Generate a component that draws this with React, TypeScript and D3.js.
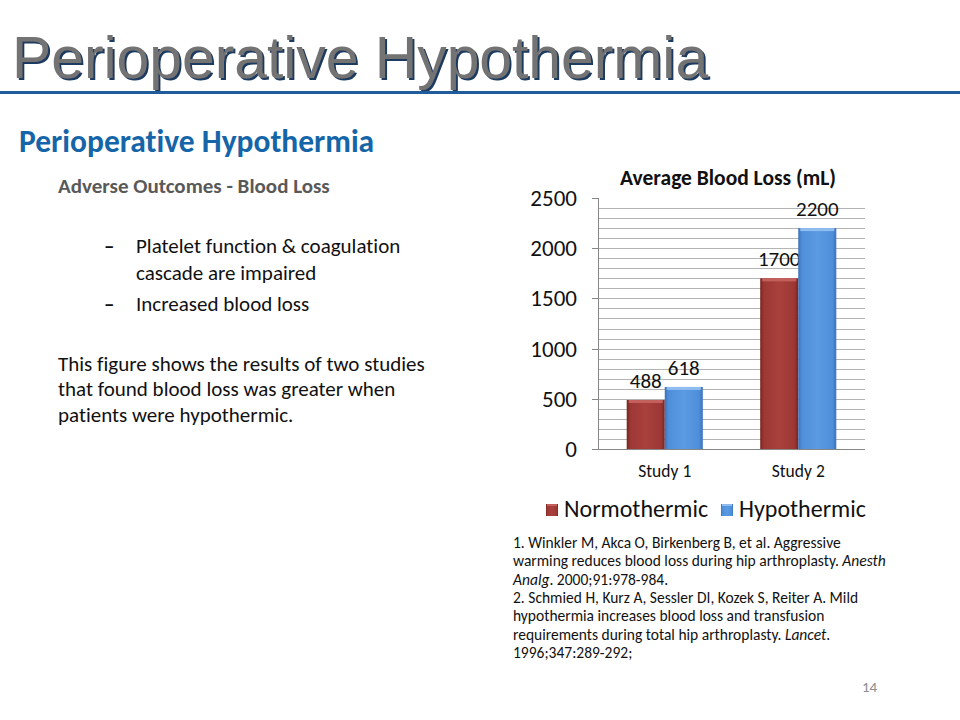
import React from "react";
import * as d3 from "d3";

const studies = ["Study 1", "Study 2"];
const seriesNames = ["Normothermic", "Hypothermic"];
const normothermic = [488, 1700];
const hypothermic = [618, 2200];
const yTicks = [0, 500, 1000, 1500, 2000, 2500];
const gridValues = d3.range(100, 2500, 100);

const bulletLines = [
  ["Platelet function & coagulation", "cascade are impaired"],
  ["Increased blood loss"],
];
const paragraphLines = [
  "This figure shows the results of two studies",
  "that found blood loss was greater when",
  "patients were hypothermic.",
];
const refLines: { t: string; i?: string; after?: string }[] = [
  { t: "1. Winkler M, Akca O, Birkenberg B, et al. Aggressive" },
  { t: "warming reduces blood loss during hip arthroplasty. ", i: "Anesth" },
  { t: "", i: "Analg", after: ". 2000;91:978-984." },
  { t: "2. Schmied H, Kurz A, Sessler DI, Kozek S, Reiter A. Mild" },
  { t: "hypothermia increases blood loss and transfusion" },
  { t: "requirements during total hip arthroplasty. ", i: "Lancet", after: "." },
  { t: "1996;347:289-292;" },
];

const FONT = "Carlito, Lato, 'Noto Sans', sans-serif";

const App: React.FC = () => {
  const W = 960;
  const H = 720;

  const x0 = d3
    .scaleBand<string>()
    .domain(studies)
    .range([598, 865])
    .paddingInner(0.43)
    .paddingOuter(0.215);
  const x1 = d3
    .scaleBand<string>()
    .domain(seriesNames)
    .range([0, x0.bandwidth()]);
  const y = d3.scaleLinear().domain([0, 2500]).range([449, 198]);

  const values = [normothermic, hypothermic];
  const grads = ["gRed", "gBlue"];
  const tops = ["#c4605c", "#8fbdf0"];

  return (
    <svg
      width={W}
      height={H}
      style={{
        position: "absolute",
        left: 0,
        top: 0,
        background: "#fff",
        fontVariantLigatures: "none",
      }}
    >
      <defs>
        <linearGradient id="gRed" x1="0" x2="1" y1="0" y2="0">
          <stop offset="0" stopColor="#7a2421" />
          <stop offset="0.1" stopColor="#9c3834" />
          <stop offset="0.5" stopColor="#a9403c" />
          <stop offset="0.9" stopColor="#9c3834" />
          <stop offset="1" stopColor="#7a2421" />
        </linearGradient>
        <linearGradient id="gBlue" x1="0" x2="1" y1="0" y2="0">
          <stop offset="0" stopColor="#3a72bd" />
          <stop offset="0.1" stopColor="#4f8ed9" />
          <stop offset="0.5" stopColor="#5b9be3" />
          <stop offset="0.9" stopColor="#4f8ed9" />
          <stop offset="1" stopColor="#3a72bd" />
        </linearGradient>
        <filter id="titleShadow" x="-5%" y="-20%" width="110%" height="140%">
          <feDropShadow dx="2" dy="2" stdDeviation="0.4" floodColor="#1f3a60" floodOpacity="1" />
        </filter>
      </defs>

      {/* main title with shadow */}
      <text
        x={12}
        y={78}
        fontFamily="'Liberation Sans', Arial, sans-serif"
        fontSize={58.8}
        fill="#737373"
        filter="url(#titleShadow)"
      >
        Perioperative Hypothermia
      </text>
      <rect x={0} y={91} width={W} height={3} fill="#1f5c99" />

      <text x={19} y={152} fontFamily={FONT} fontWeight="bold" fontSize={31.5} fill="#1565a8">
        Perioperative Hypothermia
      </text>
      <text x={58} y={193} fontFamily={FONT} fontWeight="bold" fontSize={21} fill="#595959">
        Adverse Outcomes - Blood Loss
      </text>

      <g fontFamily={FONT} fontSize={21} fill="#111">
        {bulletLines.map((lines, bi) => {
          const base = bi === 0 ? 253 : 311;
          return (
            <g key={bi}>
              <text x={104} y={base} fontWeight="bold">–</text>
              {lines.map((l, li) => (
                <text key={li} x={136} y={base + li * 26.5}>
                  {l}
                </text>
              ))}
            </g>
          );
        })}
        {paragraphLines.map((l, i) => (
          <text key={i} x={58} y={370.5 + i * 25.5}>
            {l}
          </text>
        ))}
      </g>

      {/* chart */}
      <text
        x={728}
        y={185}
        textAnchor="middle"
        fontFamily={FONT}
        fontWeight="bold"
        fontSize={21.5}
        fill="#111"
      >
        Average Blood Loss (mL)
      </text>

      {gridValues.map((v) => (
        <line
          key={v}
          x1={598}
          x2={865}
          y1={Math.round(y(v)) + 0.5}
          y2={Math.round(y(v)) + 0.5}
          stroke="#b4b4b4"
          strokeWidth={1}
        />
      ))}
      <line x1={598.5} x2={598.5} y1={y(2500)} y2={y(0)} stroke="#868686" />
      <line x1={592} x2={865} y1={Math.round(y(0)) + 0.5} y2={Math.round(y(0)) + 0.5} stroke="#868686" />
      {yTicks.map((t) => (
        <g key={t}>
          <line
            x1={592}
            x2={598}
            y1={Math.round(y(t)) + 0.5}
            y2={Math.round(y(t)) + 0.5}
            stroke="#868686"
          />
          <text
            x={577}
            y={y(t)}
            dy="0.35em"
            textAnchor="end"
            fontFamily={FONT}
            fontSize={23}
            fill="#111"
          >
            {t}
          </text>
        </g>
      ))}

      {studies.map((s, si) =>
        seriesNames.map((n, ni) => {
          const v = values[ni][si];
          const bx = (x0(s) ?? 0) + (x1(n) ?? 0);
          const bw = x1.bandwidth();
          const by = y(v);
          const bh = y(0) - by;
          return (
            <g key={s + n}>
              <rect x={bx} y={by} width={bw} height={bh} fill={`url(#${grads[ni]})`} />
              <rect x={bx + 2} y={by} width={bw - 4} height={3} fill={tops[ni]} />
              <text
                x={bx + bw / 2}
                y={by - 12}
                textAnchor="middle"
                fontFamily={FONT}
                fontSize={21}
                fill="#111"
              >
                {v}
              </text>
            </g>
          );
        })
      )}

      {studies.map((s) => (
        <text
          key={s}
          x={(x0(s) ?? 0) + x0.bandwidth() / 2}
          y={477}
          textAnchor="middle"
          fontFamily={FONT}
          fontSize={17.5}
          fill="#111"
        >
          {s}
        </text>
      ))}

      {/* legend */}
      {seriesNames.map((n, i) => {
        const lx = i === 0 ? 546 : 721;
        return (
          <g key={n}>
            <rect x={lx} y={504} width={12} height={12} fill={`url(#${grads[i]})`} />
            <rect x={lx + 1} y={504} width={10} height={2} fill={tops[i]} />
            <text x={lx + 18} y={517} fontFamily={FONT} fontSize={24} fill="#111">
              {n}
            </text>
          </g>
        );
      })}

      {/* references */}
      <g fontFamily={FONT} fontSize={15.5} fill="#111">
        {refLines.map((r, i) => (
          <text key={i} x={513} y={548 + i * 18.3}>
            {r.t}
            {r.i && <tspan fontStyle="italic">{r.i}</tspan>}
            {r.after && <tspan>{r.after}</tspan>}
          </text>
        ))}
      </g>

      <text x={862} y={692} fontFamily={FONT} fontSize={15} fill="#8c8c8c">
        14
      </text>
    </svg>
  );
};

export default App;
